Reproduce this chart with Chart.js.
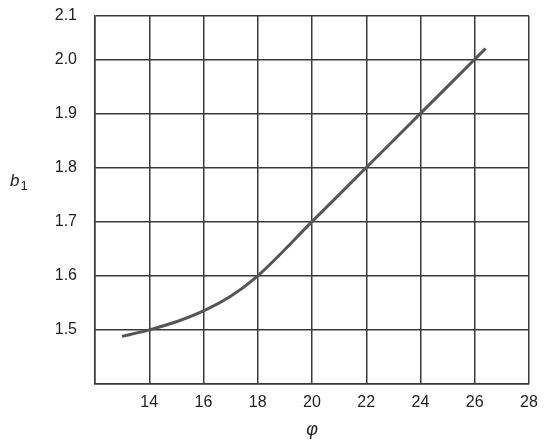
<!DOCTYPE html>
<html><head><meta charset="utf-8">
<script src="https://cdn.jsdelivr.net/npm/chart.js@4"></script>
<style>html,body{margin:0;padding:0;background:#fff;}canvas{display:block;}</style>
</head><body>
<canvas id="c" width="550" height="447"></canvas>
<script>
const phi = [13.0, 14.0, 15.0, 16.0, 17.0, 18.0, 20.0, 22.0, 24.0, 26.0, 26.4];
const b1  = [1.488, 1.500, 1.515, 1.535, 1.562, 1.600, 1.700, 1.800, 1.900, 2.000, 2.020];
const xTicks = [12, 14, 16, 18, 20, 22, 24, 26, 28];
const yTicks = [1.4, 1.5, 1.6, 1.7, 1.8, 1.9, 2.0, 2.08];

const FONT = "'Liberation Sans', Arial, sans-serif";
const gridColor = '#3a3a3a';

const yLabel = {
  id: 'yLabel',
  afterDraw(chart) {
    const ctx = chart.ctx;
    ctx.save();
    ctx.fillStyle = '#222';
    ctx.textBaseline = 'alphabetic';
    ctx.font = "italic 17px " + FONT;
    ctx.fillText('b', 10, 186);
    const w = ctx.measureText('b').width;
    ctx.font = "13px " + FONT;
    ctx.fillText('1', 10 + w + 1, 190);
    ctx.restore();
  }
};

new Chart(document.getElementById('c'), {
  type: 'line',
  data: {
    datasets: [{
      data: phi.map((x, i) => ({x: x, y: b1[i]})),
      borderColor: '#555',
      borderWidth: 3,
      pointRadius: 0,
      fill: false,
      tension: 0.4,
      cubicInterpolationMode: 'monotone'
    }]
  },
  options: {
    responsive: false,
    animation: false,
    layout: { padding: { left: 0, right: 21, top: 16, bottom: 0 } },
    plugins: { legend: { display: false }, tooltip: { enabled: false } },
    scales: {
      x: {
        type: 'linear',
        min: 12, max: 28,
        afterBuildTicks(s) { s.ticks = xTicks.map(v => ({value: v})); },
        afterFit(s) { s.height = 447 - 384; s.paddingLeft = 0; s.paddingRight = 0; },
        grid: { color: gridColor, lineWidth: 1.5, drawTicks: false },
        border: { color: gridColor, width: 1.5 },
        ticks: {
          padding: 9,
          color: '#222',
          font: { family: FONT, size: 16 },
          maxRotation: 0,
          callback: v => v === 12 ? '' : String(v)
        },
        title: {
          display: true,
          text: 'φ',
          color: '#222',
          font: { family: FONT, size: 18, style: 'italic' },
          padding: { top: 2, bottom: 6 }
        }
      },
      y: {
        type: 'linear',
        min: 1.4, max: 2.08,
        afterBuildTicks(s) { s.ticks = yTicks.map(v => ({value: v})); },
        afterFit(s) { s.width = 95; s.paddingTop = 0; s.paddingBottom = 0; },
        grid: { color: gridColor, lineWidth: 1.5, drawTicks: false },
        border: { color: gridColor, width: 1.5 },
        ticks: {
          padding: 18,
          color: '#222',
          font: { family: FONT, size: 16 },
          callback: v => Math.abs(v - 1.4) < 1e-6 ? '' : v.toFixed(1)
        }
      }
    }
  },
  plugins: [yLabel]
});
</script>
</body></html>
